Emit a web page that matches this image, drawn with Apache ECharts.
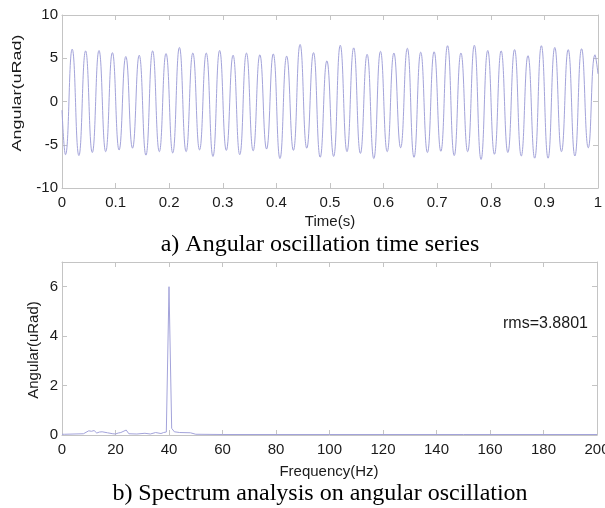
<!DOCTYPE html>
<html>
<head>
<meta charset="utf-8">
<script src="https://cdn.jsdelivr.net/npm/echarts@6/dist/echarts.min.js"></script>
<style>
  html, body {margin: 0; padding: 0; background: #fff;}
  #chart {width: 605px; height: 508px;}
</style>
</head>
<body>
<div id="chart"></div>
<script>
// a) time series: one peak and one trough per 40 Hz cycle
var peakVals = [6.05, 5.85, 5.9, 5.65, 5.2, 5.35, 5.85, 5.55, 6.25, 5.6,
                5.6, 5.9, 5.35, 5.6, 5.4, 5.5, 5.25, 6.6, 5.65, 4.7,
                6.5, 6.2, 5.45, 5.8, 5.6, 6.15, 5.7, 5.75, 6.45, 5.6,
                6.5, 5.9, 5.85, 6.0, 5.3, 6.45, 6.25, 6.0, 6.1, 5.4];
var troughVals = [-6.15, -6.25, -5.9, -5.8, -5.6, -5.4, -6.2, -5.8, -5.95, -5.8,
                  -5.6, -6.35, -5.65, -6.15, -5.7, -5.5, -6.6, -5.65, -5.4, -6.45,
                  -6.35, -5.8, -6.0, -6.6, -5.8, -5.35, -6.45, -5.9, -5.75, -6.25,
                  -5.8, -6.7, -6.1, -5.9, -6.3, -6.55, -6.55, -5.8, -6.3, -5.35];
var startVal = -1.0, endVal = 3.2;
var firstTrough = 0.0065, firstPeak = 0.019, period = 0.02501;

// b) spectrum
var specFreq = [0, 1, 8, 10, 11, 12, 13, 14, 15, 17, 19, 20, 21, 22, 24, 25, 28, 31, 33, 35,
                37, 38, 39, 40, 41, 42, 44, 48, 50, 60, 100, 150, 200];
var specAmp = [0.03, 0.03, 0.05, 0.17, 0.15, 0.18, 0.08, 0.12, 0.13, 0.09, 0.05, 0.04, 0.08, 0.1, 0.2, 0.05, 0.04, 0.07, 0.04, 0.1,
               0.06, 0.1, 0.12, 6.0, 0.27, 0.13, 0.1, 0.09, 0.03, 0.02, 0.02, 0.02, 0.02];

var rmsText = "rms=3.8801";

var timeData = [[0, startVal]];
for (var k = 0; k < peakVals.length; k++) {
    timeData.push([firstTrough + k * period, troughVals[k]]);
    timeData.push([firstPeak + k * period, peakVals[k]]);
}
timeData.push([1, endVal]);

var specData = specFreq.map(function(f, i) { return [f, specAmp[i]]; });

var sans = "'Liberation Sans', Arial, sans-serif";
var serif = "'Liberation Serif', 'Times New Roman', serif";
var ink = "#1a1a1a", frame = "#c4c4c4", trace = "#a3a3da";

function axisX(grid, min, max, interval, top) {
    return {
        type: "value", gridIndex: grid, min: min, max: max, interval: interval,
        position: top ? "top" : "bottom",
        axisLine: {show: true, onZero: false, lineStyle: {color: frame, width: 1}},
        axisTick: {show: true, inside: true, length: 5, lineStyle: {color: frame}},
        axisLabel: {show: !top, margin: 7, color: ink, fontFamily: sans, fontSize: 15, hideOverlap: false},
        splitLine: {show: false}
    };
}
function axisY(grid, min, max, interval, right, fmt) {
    return {
        type: "value", gridIndex: grid, min: min, max: max, interval: interval,
        position: right ? "right" : "left",
        axisLine: {show: true, onZero: false, lineStyle: {color: frame, width: 1}},
        axisTick: {show: true, inside: true, length: 5, lineStyle: {color: frame}},
        axisLabel: {show: !right, margin: 4, color: ink, fontFamily: sans, fontSize: 15, formatter: fmt},
        splitLine: {show: false}
    };
}

var chart = echarts.init(document.getElementById("chart"), null, {renderer: "canvas"});
chart.setOption({
    animation: false,
    backgroundColor: "#fff",
    grid: [
        {left: 62, right: 7, top: 15, height: 173, outerBoundsMode: "none", containLabel: false},
        {left: 62, right: 8, top: 262, height: 173, outerBoundsMode: "none", containLabel: false}
    ],
    xAxis: [
        axisX(0, 0, 1, 0.1, false),
        axisX(0, 0, 1, 0.1, true),
        axisX(1, 0, 200, 20, false),
        axisX(1, 0, 200, 20, true)
    ],
    yAxis: [
        axisY(0, -10, 10, 5, false),
        axisY(0, -10, 10, 5, true),
        axisY(1, 0, 7, 2, false, function(v) { return v === 7 ? "" : v; }),
        axisY(1, 0, 7, 2, true)
    ],
    series: [
        {type: "line", xAxisIndex: 0, yAxisIndex: 0, data: timeData, smooth: 0.5,
         showSymbol: false, lineStyle: {color: trace, width: 1}},
        {type: "line", xAxisIndex: 2, yAxisIndex: 2, data: specData,
         showSymbol: false, lineStyle: {color: trace, width: 1}}
    ],
    graphic: [
        {type: "text", x: 18, y: 93, rotation: Math.PI / 2, scaleX: 1.5,
         style: {text: "Angular(uRad)", font: "12px " + sans, fill: ink, align: "center", verticalAlign: "middle"}},
        {type: "text", x: 34, y: 350, rotation: Math.PI / 2,
         style: {text: "Angular(uRad)", font: "15px " + sans, fill: ink, align: "center", verticalAlign: "middle"}},
        {type: "text", x: 330, y: 222,
         style: {text: "Time(s)", font: "15px " + sans, fill: ink, align: "center", verticalAlign: "middle"}},
        {type: "text", x: 329, y: 472,
         style: {text: "Frequency(Hz)", font: "15px " + sans, fill: ink, align: "center", verticalAlign: "middle"}},
        {type: "text", x: 503, y: 323.5,
         style: {text: rmsText, font: "16px " + sans, fill: ink, align: "left", verticalAlign: "middle"}},
        {type: "text", x: 320, y: 245,
         style: {text: "a) Angular oscillation time series", font: "24px " + serif, fill: "#000", align: "center", verticalAlign: "middle"}},
        {type: "text", x: 320, y: 494,
         style: {text: "b) Spectrum analysis on angular oscillation", font: "24px " + serif, fill: "#000", align: "center", verticalAlign: "middle"}}
    ]
});
</script>
</body>
</html>
